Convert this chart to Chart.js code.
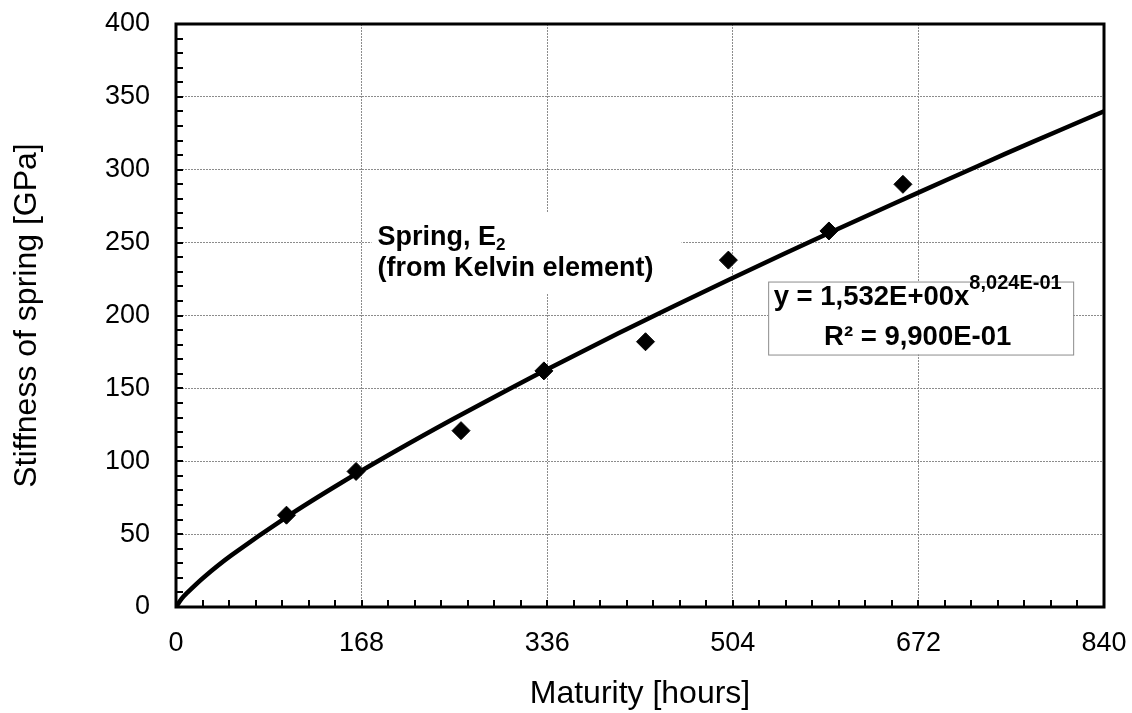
<!DOCTYPE html>
<html>
<head>
<meta charset="utf-8">
<script src="https://cdn.jsdelivr.net/npm/chart.js@4"></script>
<style>
  body { margin: 0; background: #fff; }
  canvas { display: block; }
</style>
</head>
<body>
<canvas id="springChart" width="1132" height="713"></canvas>
<script>
const maturityHours = [100, 163, 258, 333, 425, 500, 591, 658];
const springStiffness = [63, 93, 121, 162, 182, 238, 258, 290];

// Power trendline as drawn in the picture
const trendHours = [0, 5, 10, 25, 50, 100, 150, 200, 250, 300, 350, 400, 450, 500, 550, 600, 650, 700, 750, 800, 840];
const trendStiffness = [0, 5.6, 9.7, 20.3, 35.4, 61.7, 85.4, 107.5, 128.6, 148.9, 168.5, 187.6, 206.2, 224.3, 242.2, 259.7, 276.8, 293.8, 310.7, 327.1, 340.1];

// Axis tick labels
const xMajorTicks = [0, 168, 336, 504, 672, 840];
const yMajorTicks = [0, 50, 100, 150, 200, 250, 300, 350, 400];

const FONT = "'Liberation Sans', Arial, sans-serif";
Chart.defaults.font.family = FONT;
Chart.defaults.color = '#000';

const toPoints = (xs, ys) => xs.map((x, i) => ({ x: x, y: ys[i] }));

// White label boxes and text inside the plot
const annotations = {
    id: 'annotations',
    beforeDatasetsDraw(chart) {
        const c = chart.ctx;
        const sx = chart.scales.x, sy = chart.scales.y;
        c.save();

        // "Spring, E2" label
        const lx = sx.getPixelForValue(177), ly = sy.getPixelForValue(271);
        c.fillStyle = '#fff';
        c.fillRect(lx, ly, 310, 82);
        c.fillStyle = '#000';
        c.textBaseline = 'alphabetic';
        c.textAlign = 'left';
        c.font = 'bold 27px ' + FONT;
        c.fillText('Spring, E', lx + 6, ly + 33);
        const w = c.measureText('Spring, E').width;
        c.font = 'bold 17px ' + FONT;
        c.fillText('2', lx + 6 + w, ly + 38);
        c.font = 'bold 27px ' + FONT;
        c.fillText('(from Kelvin element)', lx + 6, ly + 64);

        // equation box
        const ex = sx.getPixelForValue(536), ey = sy.getPixelForValue(223.3);
        const bw = 305, bh = 73;
        c.fillStyle = '#fff';
        c.fillRect(ex, ey, bw, bh);
        c.strokeStyle = '#8c8c8c';
        c.lineWidth = 1;
        c.strokeRect(ex + 0.5, ey + 0.5, bw, bh);
        c.fillStyle = '#000';
        const cx = ex + bw / 2 - 3;
        c.font = 'bold 27.5px ' + FONT;
        const t1 = 'y = 1,532E+00x';
        const w1 = c.measureText(t1).width;
        c.font = 'bold 20px ' + FONT;
        const t2 = '8,024E-01';
        const w2 = c.measureText(t2).width;
        const start = cx - (w1 + w2) / 2;
        c.font = 'bold 27.5px ' + FONT;
        c.fillText(t1, start, ey + 23);
        c.font = 'bold 20px ' + FONT;
        c.fillText(t2, start + w1, ey + 7);
        c.font = 'bold 27.5px ' + FONT;
        c.textAlign = 'center';
        c.fillText('R² = 9,900E-01', cx, ey + 63);
        c.restore();
    },
    afterDraw(chart) {
        const c = chart.ctx;
        const a = chart.chartArea;
        const sx = chart.scales.x, sy = chart.scales.y;
        c.save();
        c.strokeStyle = '#000';
        c.lineWidth = 2;
        // inward tick marks
        c.beginPath();
        sx.ticks.forEach(t => {
            const px = Math.round(sx.getPixelForValue(t.value));
            c.moveTo(px, a.bottom);
            c.lineTo(px, a.bottom - 7);
        });
        sy.ticks.forEach(t => {
            const py = Math.round(sy.getPixelForValue(t.value));
            c.moveTo(a.left, py);
            c.lineTo(a.left + 7, py);
        });
        c.stroke();
        // plot frame
        c.lineWidth = 3;
        c.strokeRect(a.left, a.top, a.right - a.left, a.bottom - a.top);
        c.restore();
    }
};

const gridColor = majors => ctx => majors.includes(ctx.tick.value) ? '#8c8c8c' : 'rgba(0,0,0,0)';

const springChart = new Chart(document.getElementById('springChart'), {
    type: 'scatter',
    data: {
        datasets: [
            {
                label: 'Power fit',
                type: 'line',
                data: toPoints(trendHours, trendStiffness),
                borderColor: '#000',
                borderWidth: 4.5,
                pointRadius: 0,
                tension: 0.3,
                fill: false
            },
            {
                label: 'Spring, E2',
                data: toPoints(maturityHours, springStiffness),
                pointStyle: 'rectRot',
                pointRadius: 9,
                backgroundColor: '#000',
                borderColor: '#000',
                borderWidth: 1
            }
        ]
    },
    options: {
        responsive: false,
        animation: false,
        layout: { padding: { top: 24, right: 28, left: 0, bottom: 0 } },
        plugins: {
            legend: { display: false },
            tooltip: { enabled: false }
        },
        scales: {
            x: {
                type: 'linear',
                min: 0, max: 840,
                afterFit: s => { s.height = 106; s.paddingLeft = 0; s.paddingRight = 0; },
                grid: { color: gridColor(xMajorTicks), drawTicks: false, lineWidth: 1 },
                border: { display: false, dash: [2, 1] },
                ticks: {
                    stepSize: 24,
                    autoSkip: false,
                    maxRotation: 0,
                    padding: 20,
                    font: { size: 27 },
                    callback: v => xMajorTicks.includes(v) ? String(v) : ''
                },
                title: {
                    display: true,
                    text: 'Maturity [hours]',
                    font: { size: 32 },
                    padding: { top: 5, bottom: 0 }
                }
            },
            y: {
                type: 'linear',
                min: 0, max: 400,
                afterFit: s => { s.width = 176; s.paddingTop = 0; s.paddingBottom = 0; },
                grid: { color: gridColor(yMajorTicks), drawTicks: false, lineWidth: 1 },
                border: { display: false, dash: [2, 1] },
                ticks: {
                    stepSize: 10,
                    autoSkip: false,
                    padding: 26,
                    font: { size: 27 },
                    callback: v => yMajorTicks.includes(v) ? String(v) : ''
                },
                title: {
                    display: true,
                    text: 'Stiffness of spring [GPa]',
                    font: { size: 32 },
                    padding: { top: 8, bottom: 0 }
                }
            }
        }
    },
    plugins: [annotations]
});
</script>
</body>
</html>
